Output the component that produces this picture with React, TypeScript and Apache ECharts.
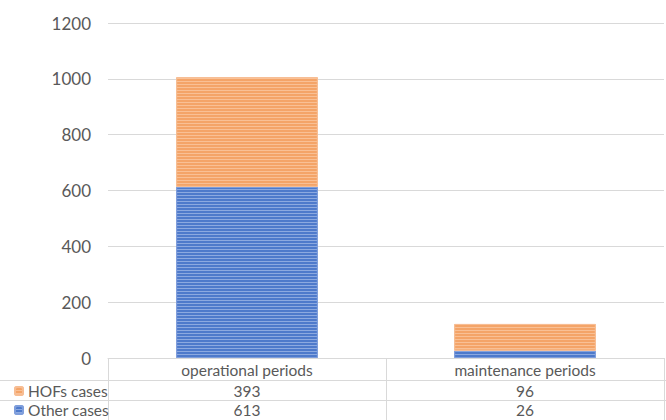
import React, { useEffect, useRef } from "react";
import * as echarts from "echarts";

const categories = ["operational periods", "maintenance periods"];
const hofsCases = [393, 96];
const otherCases = [613, 26];
const seriesNames = ["HOFs cases", "Other cases"];
const yTicks = { min: 0, max: 1200, interval: 200 };

const FONT = "Lato, 'Open Sans', sans-serif";
const TXT = "#595959";
const LINE = "#d9d9d9";

export default function App() {
  const ref = useRef<HTMLDivElement>(null);
  useEffect(() => {
    if (!ref.current) return;
    const chart = echarts.init(ref.current, undefined, { renderer: "svg" });
    const stripe = (c: string) => ({
      symbol: "rect",
      symbolSize: 1,
      dashArrayX: [[1, 0]],
      dashArrayY: [1, 2],
      rotation: 0,
      color: c,
    });
    const legendBase = {
      orient: "vertical",
      left: 14,
      padding: 0,
      itemWidth: 8,
      itemHeight: 8,
      itemGap: 0,
      selectedMode: false,
      textStyle: { color: TXT, fontSize: 15.5, fontFamily: FONT },
    };
    chart.setOption({
      animation: false,
      textStyle: { fontFamily: FONT },
      grid: { left: 108, right: 2, top: 23, bottom: 62, containLabel: false },
      legend: [
        { ...legendBase, top: 383, data: [seriesNames[0]] },
        { ...legendBase, top: 402, data: [seriesNames[1]] },
      ],
      xAxis: [
        {
          type: "category",
          data: categories,
          position: "bottom",
          axisLine: { lineStyle: { color: LINE } },
          axisTick: { show: true, length: 62, lineStyle: { color: LINE } },
          axisLabel: { color: TXT, fontSize: 15.5, margin: 4, fontFamily: FONT },
        },
        {
          type: "category",
          data: categories,
          position: "bottom",
          offset: 22,
          axisLine: { show: false },
          axisTick: { show: false },
          axisLabel: {
            color: TXT,
            fontSize: 15.5,
            margin: 3,
            fontFamily: FONT,
            formatter: (_v: string, i: number) => String(hofsCases[i]),
          },
        },
        {
          type: "category",
          data: categories,
          position: "bottom",
          offset: 42,
          axisLine: { show: false },
          axisTick: { show: false },
          axisLabel: {
            color: TXT,
            fontSize: 15.5,
            margin: 2,
            fontFamily: FONT,
            formatter: (_v: string, i: number) => String(otherCases[i]),
          },
        },
      ],
      yAxis: {
        type: "value",
        min: yTicks.min,
        max: yTicks.max,
        interval: yTicks.interval,
        axisLine: { show: false },
        axisTick: { show: false },
        axisLabel: {
          color: TXT,
          fontSize: 17,
          margin: 17,
          fontFamily: FONT,
          formatter: (v: number) => String(v),
        },
        splitLine: { lineStyle: { color: LINE } },
      },
      series: [
        {
          name: seriesNames[1],
          type: "bar",
          stack: "total",
          barWidth: "51%",
          data: otherCases,
          itemStyle: {
            color: "#4E7ACB",
            borderColor: "#7F9EDB",
            borderWidth: 1,
            decal: stripe("rgba(190,208,240,0.55)"),
          },
        },
        {
          name: seriesNames[0],
          type: "bar",
          stack: "total",
          barWidth: "51%",
          data: hofsCases,
          itemStyle: {
            color: "#F4A468",
            borderColor: "#F7BD93",
            borderWidth: 1,
            decal: stripe("rgba(252,214,186,0.55)"),
          },
        },
      ],
      graphic: [
        { type: "line", shape: { x1: 0, y1: 380.5, x2: 666, y2: 380.5 }, style: { stroke: LINE, lineWidth: 1 } },
        { type: "line", shape: { x1: 0, y1: 400.5, x2: 666, y2: 400.5 }, style: { stroke: LINE, lineWidth: 1 } },
      ],
    });
    return () => chart.dispose();
  }, []);
  return (
    <div
      ref={ref}
      style={{ position: "fixed", left: 0, top: 0, width: 666, height: 420, background: "#fff" }}
    />
  );
}
